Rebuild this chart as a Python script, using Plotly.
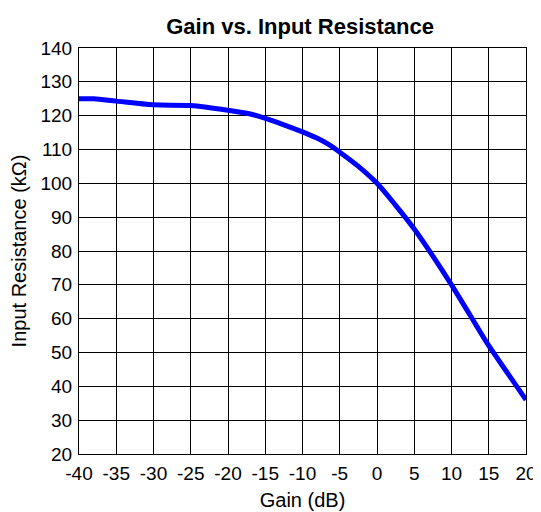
import plotly.graph_objects as go

gain_db = [-40, -38, -35, -30, -25, -20, -17, -15, -12.5, -10, -8, -6.5, -5, -2.5, 0, 2.5, 5, 7.5, 10, 12.5, 15, 17.5, 20]
input_res_kohm = [125, 125, 124.3, 123.2, 123, 121.6, 120.5, 119.2, 117.3, 115.2, 113.3, 111.5, 109.2, 105, 100, 93.5, 86.5, 78.5, 70, 61, 52, 44, 36]

x_ticks = list(range(-40, 21, 5))
x_tick_text = [str(v) for v in x_ticks]
y_ticks = list(range(20, 141, 10))

fig = go.Figure()
fig.add_trace(go.Scatter(x=gain_db, y=input_res_kohm, mode="lines",
                         line=dict(color="#0000ff", width=5, shape="spline", smoothing=0.8),
                         showlegend=False))

font = "Liberation Sans, Arial, sans-serif"
# page body has an 8px margin, so the figure is sized/positioned to compensate
fig.update_layout(
    width=533, height=504,
    margin=dict(l=71, r=15, t=40, b=58),
    paper_bgcolor="white", plot_bgcolor="white",
    title=dict(text="<b>Gain vs. Input Resistance</b>", xref="container", x=0.548, xanchor="center",
               yref="container", y=0.964, yanchor="middle",
               font=dict(family=font, size=22, color="black")),
    font=dict(family=font, size=19, color="black"),
    xaxis=dict(range=[-40, 20], tickvals=x_ticks, ticktext=x_tick_text, showgrid=True,
               gridcolor="black", gridwidth=1, automargin=False,
               showline=True, linecolor="black", linewidth=1, mirror=True, zeroline=False,
               ticks="", ticklabelstandoff=2,
               title=dict(text="Gain (dB)", font=dict(size=20), standoff=10),
               tickfont=dict(size=19)),
    yaxis=dict(range=[20, 140], tickvals=y_ticks, showgrid=True, gridcolor="black", gridwidth=1,
               showline=True, linecolor="black", linewidth=1, mirror=True, zeroline=False,
               ticks="", automargin=False, ticklabelstandoff=2,
               title=dict(text="Input Resistance (kΩ)", font=dict(size=20), standoff=10),
               tickfont=dict(size=19)),
)
fig.write_html("out.html")
